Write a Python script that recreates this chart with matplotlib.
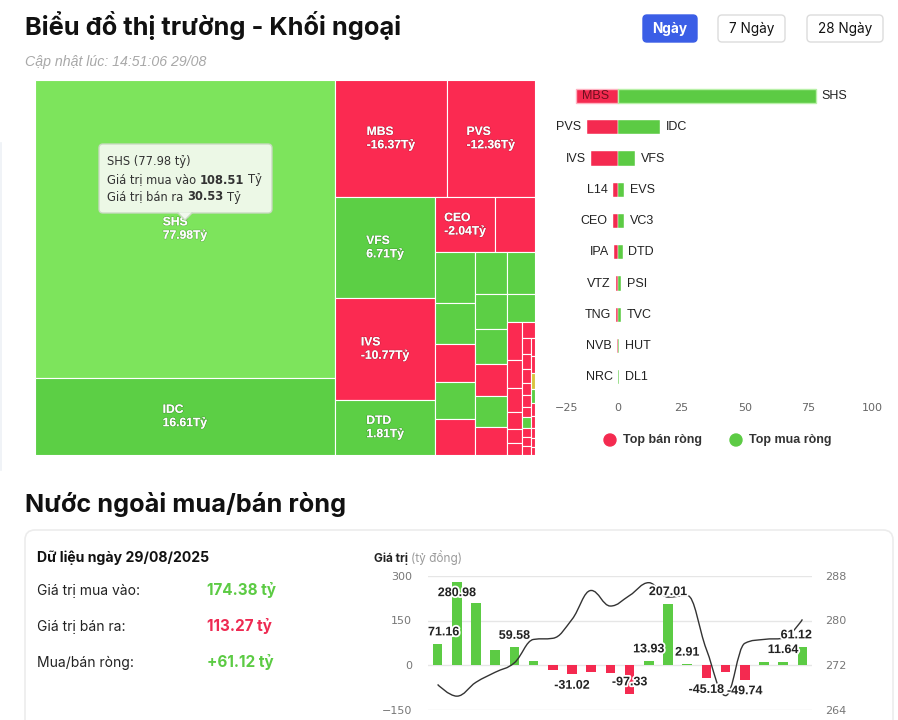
import matplotlib
matplotlib.use('Agg')
import matplotlib.pyplot as plt
import matplotlib.patheffects as pe
from matplotlib.patches import Rectangle, FancyBboxPatch, Polygon, Circle, PathPatch
from matplotlib.path import Path
import numpy as np

W, H = 898, 720
GREEN = '#5ccf45'
GREEN_HOVER = '#7de45c'
RED = '#fb2a51'
YELLOW = '#d8c53e'
BAR_GREEN = '#5ccb44'
BAR_RED = '#f42a50'
UI = ['Inter', 'DejaVu Sans']
HC = ['Liberation Sans', 'DejaVu Sans']
AX = ['DejaVu Sans']

# ---- data ----
update_text = "Cập nhật lúc: 14:51:06 29/08"
periods = ['Ngày', '7 Ngày', '28 Ngày']

# treemap cells in layout order (size = cell weight, net = net value in ty)
tm_names = ['SHS', 'IDC', 'MBS', 'PVS', 'VFS', 'IVS', 'DTD', 'CEO', '',
            '', '', '', '', '',
            '', '',
            '', '', '', '', '',
            '',
            '', '', '', '', '', '',
            '', '', '', '', '', '', '', '', '', '', '', '', '', '', '', '', '', '', '', '']
tm_size = [894, 231, 131, 103, 101, 102, 55, 33, 22,
           19.8, 16.35, 14.9, 14.9, 14.1,
           13.4, 11.8,
           11.2, 11.2, 10.6, 9.9, 9.0,
           7.8,
           5.65, 4.35, 3.65, 2.5, 2.15, 1.8,
           1.95, 1.44, 1.3, 1.2, 1.1, 1.0, 0.95, 0.9, 0.85, 0.8, 0.75, 0.7,
           0.65, 0.6, 0.55, 0.5, 0.45, 0.4, 0.35, 0.3]
tm_net = [77.98, 16.61, -16.37, -12.36, 6.71, -10.77, 1.81, -2.04, -1.9,
          2.4, 2.3, -1.5, 1.2, -0.9,
          1.2, 1.0,
          0.9, 0.8, -0.8, 0.6, -0.7,
          0.5,
          -0.6, -0.5, -0.45, -0.4, -0.35, -0.3,
          -0.3, -0.28, -0.27, -0.26, -0.25, -0.24, -0.23, 0.2, -0.22, -0.21, -0.2, -0.19,
          -0.18, 0.0, 0.1, -0.15, -0.14, -0.12, -0.1, -0.08]
hover_name = 'SHS'
hover_buy = 108.51
hover_sell = 30.53

# top net sellers / buyers
sell_names = ['MBS', 'PVS', 'IVS', 'L14', 'CEO', 'IPA', 'VTZ', 'TNG', 'NVB', 'NRC']
sell_vals = [-16.37, -12.36, -10.77, -2.1, -2.04, -1.5, -0.8, -0.8, -0.5, -0.15]
buy_names = ['SHS', 'IDC', 'VFS', 'EVS', 'VC3', 'DTD', 'PSI', 'TVC', 'HUT', 'DL1']
buy_vals = [77.98, 16.61, 6.71, 2.4, 2.3, 1.81, 1.2, 1.3, 0.4, 0.5]

# daily summary
day_label = "Dữ liệu ngày 29/08/2025"
buy_total = 174.38
sell_total = 113.27
net_total = 61.12

# 20-session net flow (bars) and index (line)
net_flow = [71.16, 280.98, 210.0, 52.0, 59.58, 15.0, -16.0, -31.02, -23.0, -28.0,
            -97.33, 13.93, 207.01, 2.91, -45.18, -23.0, -49.74, 11.0, 11.64, 61.12]
index_line = [268.5, 266.4, 268.9, 270.7, 272.4, 276.6, 276.8, 280.2, 285.4, 282.6,
              284.5, 286.8, 284.2, 284.5, 274.8, 266.5, 275.9, 276.6, 276.8, 280.2]


def treemap_layout(sizes, width, height):
    # squarified layout, alternating direction (vertical first)
    total = float(sum(sizes))
    g = {'w': width, 'h': height, 'x': 0.0, 'y': 0.0, 'd': 0,
         'tot': 0.0, 'nW': 0.0, 'lW': 0.0, 'nH': 0.0, 'lH': 0.0, 'el': []}
    rects = []

    def aspect(a, b):
        return max(a / b, b / a)

    def add(a):
        prev = g['el'][-1] if g['el'] else None
        g['tot'] += a
        worse = False
        if g['d'] == 0:
            g['lW'] = g['nW']
            g['nW'] = g['tot'] / g['h']
            if prev is not None and g['lW'] > 0:
                worse = aspect(g['nW'], prev / g['nW']) > aspect(g['lW'], prev / g['lW'])
        else:
            g['lH'] = g['nH']
            g['nH'] = g['tot'] / g['w']
            if prev is not None and g['lH'] > 0:
                worse = aspect(prev / g['nH'], g['nH']) > aspect(prev / g['lH'], g['lH'])
        g['el'].append(a)
        return worse

    def flush(last):
        if last:
            gw, gh, items, keep = g['nW'], g['nH'], g['el'], None
        else:
            gw, gh, items, keep = g['lW'], g['lH'], g['el'][:-1], g['el'][-1]
        for a in items:
            if g['d'] == 0:
                rects.append((g['x'], g['y'], gw, a / gw))
                g['y'] += a / gw
            else:
                rects.append((g['x'], g['y'], a / gh, gh))
                g['x'] += a / gh
        g['tot'], g['nW'], g['lW'], g['el'] = 0.0, 0.0, 0.0, []
        if g['d'] == 0:
            g['w'] -= gw
        else:
            g['h'] -= gh
        g['x'] = width - g['w']
        g['y'] = height - g['h']
        g['d'] = 1 - g['d']
        if keep is not None:
            add(keep)

    for i, s in enumerate(sizes):
        if add(width * height * s / total):
            flush(False)
        if i == len(sizes) - 1:
            flush(True)
    return rects


def spline_path(xs, ys, smoothing=1.5):
    n = len(xs)
    denom = smoothing + 1
    lc = [None] * n
    rc = [None] * n
    for i in range(1, n - 1):
        px, py = xs[i], ys[i]
        lx, ly = xs[i - 1], ys[i - 1]
        nx, ny = xs[i + 1], ys[i + 1]
        lcx = (smoothing * px + lx) / denom
        lcy = (smoothing * py + ly) / denom
        rcx = (smoothing * px + nx) / denom
        rcy = (smoothing * py + ny) / denom
        corr = (rcy - lcy) * (rcx - px) / (rcx - lcx) + py - rcy
        lcy += corr
        rcy += corr
        if lcy > ly and lcy > py:
            lcy = max(ly, py); rcy = 2 * py - lcy
        elif lcy < ly and lcy < py:
            lcy = min(ly, py); rcy = 2 * py - lcy
        if rcy > ny and rcy > py:
            rcy = max(ny, py); lcy = 2 * py - rcy
        elif rcy < ny and rcy < py:
            rcy = min(ny, py); lcy = 2 * py - rcy
        lc[i] = (lcx, lcy)
        rc[i] = (rcx, rcy)
    verts = [(xs[0], ys[0])]
    codes = [Path.MOVETO]
    for i in range(1, n):
        c1 = rc[i - 1] if rc[i - 1] else (xs[i - 1], ys[i - 1])
        c2 = lc[i] if lc[i] else (xs[i], ys[i])
        verts += [c1, c2, (xs[i], ys[i])]
        codes += [Path.CURVE4] * 3
    return Path(verts, codes)


fig = plt.figure(figsize=(W / 100, H / 100), dpi=100)
fig.patch.set_facecolor('white')
renderer = fig.canvas.get_renderer()


def px_axes(x, y, w, h, label=None):
    return fig.add_axes([x / W, 1 - (y + h) / H, w / W, h / H], label=label)


def rich(ax, x, y, parts, gap, **kw):
    # draw text pieces one after another on a pixel axes
    for text, opts in parts:
        t = ax.text(x, y, text, **kw, **opts)
        x += t.get_window_extent(renderer).width + gap
    return x


page = px_axes(0, 0, W, H, 'page')
page.set_xlim(0, W)
page.set_ylim(H, 0)
page.axis('off')

# header
page.text(25, 34.5, "Biểu đồ thị trường - Khối ngoại", fontsize=18.3, fontweight='bold',
          family=UI, color='#111111', va='baseline')
page.text(25, 66, update_text, fontsize=10.2, style='italic', family=['Liberation Sans', 'DejaVu Sans'],
          color='#a8a8a8', va='baseline')
page.plot([1, 1], [143, 470], color='#edf1f6', lw=1.2)

btn_x = [643, 718, 807]
btn_w = [54, 67, 76]
for i, (lab, bxp, bw) in enumerate(zip(periods, btn_x, btn_w)):
    active = i == 0
    page.add_patch(FancyBboxPatch((bxp, 15), bw, 27, boxstyle='round,pad=0,rounding_size=4',
                                  facecolor='#3b5ee6' if active else 'white',
                                  edgecolor='#3b5ee6' if active else '#dcdcdc', lw=1))
    page.text(bxp + bw / 2, 29, lab, ha='center', va='center', fontsize=9.8, family=UI,
              fontweight='bold' if active else 'normal', color='white' if active else '#111111')

# ---- treemap ----
tm = px_axes(35, 80, 500, 375, 'treemap')
tm.set_xlim(0, 500)
tm.set_ylim(375, 0)
tm.axis('off')
for (x, y, w, h), name, net in zip(treemap_layout(tm_size, 500, 375), tm_names, tm_net):
    if name == hover_name:
        col = GREEN_HOVER
    elif net > 0:
        col = GREEN
    elif net < 0:
        col = RED
    else:
        col = YELLOW
    tm.add_patch(Rectangle((x, y), w, h, facecolor=col, edgecolor='white', lw=0.8))
    if name and w >= 55 and h >= 40:
        tm.text(x + w / 2, y + h / 2, f"{name}\n{net:.2f}Tỷ", ha='center', va='center',
                multialignment='left', color='white', fontsize=8.7, fontweight='bold',
                family=HC, linespacing=1.15,
                path_effects=[pe.withStroke(linewidth=1, foreground=(0, 0, 0, 0.18))])

# ---- top sellers / buyers bars ----
bx = px_axes(554.5, 80.4, 317.5, 312.5, 'bars')
rows = np.arange(len(sell_names))
edge_r = ['#ffb0c0'] + ['white'] * (len(rows) - 1)
edge_g = ['#b8f0a8'] + ['white'] * (len(rows) - 1)
lw_rows = [1.0] + [0.3] * (len(rows) - 1)
bx.barh(rows, sell_vals, height=0.45, color=BAR_RED, edgecolor=edge_r, lw=lw_rows)
bx.barh(rows, buy_vals, height=0.45, color=BAR_GREEN, edgecolor=edge_g, lw=lw_rows)
bx.set_xlim(-25, 100)
bx.set_ylim(len(rows) - 0.5, -0.5)
bx.set_xticks([-25, 0, 25, 50, 75, 100])
bx.set_yticks([])
for s in bx.spines.values():
    s.set_visible(False)
bx.tick_params(axis='x', length=0, labelsize=8, labelcolor='#666666', pad=7)
for lab in bx.get_xticklabels():
    lab.set_family(AX)
bx.get_xticklabels()[0].set_ha('left')
bx.patch.set_alpha(0)
bx_left = bx.get_window_extent(renderer).x0
for i, (n, v) in enumerate(zip(sell_names, sell_vals)):
    t = bx.annotate(n, (v, i), xytext=(-3.6, 0), textcoords='offset points', ha='right',
                    va='center', fontsize=9, family=HC, color='#222222')
    if t.get_window_extent(renderer).x0 < bx_left:
        t.xyann = (3.8, 0)
        t.set_ha('left')
        t.set_color('#6e0f1e')
for i, (n, v) in enumerate(zip(buy_names, buy_vals)):
    bx.annotate(n, (v, i), xytext=(4.2, 0), textcoords='offset points', ha='left',
                va='center', fontsize=9, family=HC, color='#222222')

page.add_patch(Circle((610, 440), 6, color=BAR_RED))
page.text(623, 440, "Top bán ròng", va='center', fontsize=9, fontweight='bold', family=HC, color='#333333')
page.add_patch(Circle((736, 440), 6, color=BAR_GREEN))
page.text(749, 440, "Top mua ròng", va='center', fontsize=9, fontweight='bold', family=HC, color='#333333')

# ---- bottom section ----
page.text(25, 512, "Nước ngoài mua/bán ròng", fontsize=18.2, fontweight='bold', family=UI,
          color='#111111', va='baseline')
page.add_patch(FancyBboxPatch((25, 530), 868, 220, boxstyle='round,pad=0,rounding_size=10',
                              facecolor='white', edgecolor='#ececec', lw=1.2))
page.text(37, 562, day_label, fontsize=10.1, fontweight='bold', family=UI, color='#111111', va='baseline')
summary = [("Giá trị mua vào:", f"{buy_total:.2f} tỷ", BAR_GREEN, 595),
           ("Giá trị bán ra:", f"{sell_total:.2f} tỷ", '#ee2a52', 631),
           ("Mua/bán ròng:", f"{net_total:+.2f} tỷ", BAR_GREEN, 667)]
for lab, val, col, yy in summary:
    page.text(37, yy, lab, fontsize=10, family=UI, color='#222222', va='baseline')
    page.text(207, yy, val, fontsize=11, fontweight='bold', family=UI, color=col, va='baseline')

rich(page, 374, 562, [("Giá trị", {'fontweight': 'bold', 'color': '#222222'}),
                      ("(tỷ đồng)", {'color': '#9a9a9a'})], 3,
     fontsize=8.5, family=UI, va='baseline')

cx = px_axes(428, 576, 384, 133.5, 'combo')
xs = np.arange(len(net_flow))
cx.bar(xs, net_flow, width=0.5, color=[BAR_GREEN if v >= 0 else BAR_RED for v in net_flow], zorder=2)
cx.set_xlim(-0.5, len(net_flow) - 0.5)
cx.set_ylim(-150, 300)
cx.set_yticks([-150, 0, 150, 300])
cx.set_xticks([])
cx.grid(axis='y', color='#e6e6e6', lw=1)
cx.set_axisbelow(True)
cx.patch.set_alpha(0)
for s in cx.spines.values():
    s.set_visible(False)
cx.tick_params(axis='y', length=0, labelsize=8, labelcolor='#777777', pad=11.5)
cy = cx.twinx()
cy.set_ylim(264, 288)
cy.set_yticks([264, 272, 280, 288])
for s in cy.spines.values():
    s.set_visible(False)
cy.tick_params(axis='y', length=0, labelsize=8, labelcolor='#777777', pad=9.4)
for a in (cx, cy):
    for lab in a.get_yticklabels():
        lab.set_family(AX)
cy.add_patch(PathPatch(spline_path(list(xs), index_line), fill=False, edgecolor='#333333', lw=1, zorder=3))

# overlay: tooltip + combo data labels
top = px_axes(0, 0, W, H, 'overlay')
top.set_xlim(0, W)
top.set_ylim(H, 0)
top.axis('off')

tip_fc = '#f1f9ed'
tip_ec = '#c9d9c2'
top.add_patch(FancyBboxPatch((99, 144), 173, 69, boxstyle='round,pad=0,rounding_size=4',
                             facecolor=tip_fc, edgecolor=tip_ec, lw=1, alpha=0.96))
top.add_patch(Polygon([(178, 212.4), (192, 212.4), (185, 220)], closed=True, facecolor=tip_fc, edgecolor='none'))
top.plot([178, 185, 192], [213, 220, 213], color=tip_ec, lw=1)
tip_kw = dict(fontsize=8.3, family=AX, color='#333333', va='center')
top.text(107, 162, f"{hover_name} ({tm_net[tm_names.index(hover_name)]:.2f} tỷ)", **tip_kw)
rich(top, 107, 180, [("Giá trị mua vào", {}), (f"{hover_buy:.2f}", {'fontweight': 'bold'}), ("Tỷ", {})], 3.6, **tip_kw)
rich(top, 107, 197, [("Giá trị bán ra", {}), (f"{hover_sell:.2f}", {'fontweight': 'bold'}), ("Tỷ", {})], 3.6, **tip_kw)

plot_top, plot_bot, plot_l, plot_r = 576, 709.5, 428, 812
labels = []
for i, v in enumerate(net_flow):
    dx, dy = cx.transData.transform((i, v))
    end_y = H - dy
    lx = dx
    half = 7
    if v >= 0:
        ly = end_y - 11.5
        if ly - half < plot_top:
            ly = end_y + 11.5
    else:
        ly = end_y + 11.5
        if ly + half > plot_bot:
            ly = end_y - 11.5
    t = top.text(lx, ly, f"{v:.2f}", ha='center', va='center', fontsize=9, fontweight='bold',
                 family=HC, color='#222222',
                 path_effects=[pe.withStroke(linewidth=2.6, foreground='white')])
    w = t.get_window_extent(renderer).width
    if lx - w / 2 < plot_l:
        lx = plot_l + w / 2
    if lx + w / 2 > plot_r:
        lx = plot_r - w / 2
    t.set_x(lx)
    labels.append((abs(v), t, (lx - w / 2, ly - half, lx + w / 2, ly + half)))

kept = []
for rank, t, box in sorted(labels, key=lambda z: -z[0]):
    clash = any(box[0] < k[2] and k[0] < box[2] and box[1] < k[3] and k[1] < box[3] for k in kept)
    if clash:
        t.set_visible(False)
    else:
        kept.append(box)

fig.savefig('out.png', dpi=100, facecolor='white')
